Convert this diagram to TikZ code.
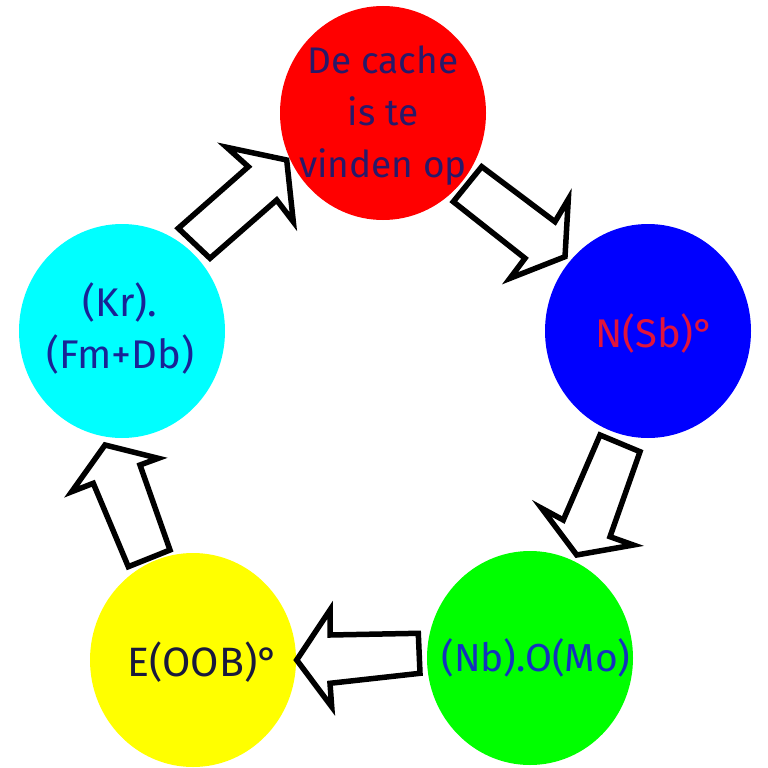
\documentclass[tikz,border=0pt]{standalone}
\usepackage{fontspec}
\setmainfont{Fira Sans}
\usetikzlibrary{shapes.geometric}
\definecolor{cred}{RGB}{255,0,0}
\definecolor{cblue}{RGB}{0,0,255}
\definecolor{cgreen}{RGB}{0,255,0}
\definecolor{cyellow}{RGB}{255,255,0}
\definecolor{ccyan}{RGB}{0,255,255}
\definecolor{tnavy}{RGB}{40,25,105}
\definecolor{tred}{RGB}{225,20,60}
\definecolor{tblue}{RGB}{20,50,190}
\definecolor{tdark}{RGB}{25,25,60}
\definecolor{tcyan}{RGB}{25,35,150}
\begin{document}
\begin{tikzpicture}[x=1pt,y=-1pt,
  blob/.style={ellipse, minimum width=206pt, minimum height=214pt, inner sep=0pt,
    align=center, font=\fontsize{40}{52}\selectfont},
  blockarrow/.style={draw=black, fill=white, line width=5.5pt, line join=miter}]
\useasboundingbox (0,0) rectangle (768,768);
\fill[white] (0,0) rectangle (768,768);

\node[blob, fill=cred] (red) at (383,113) {};
\node[text=tnavy, align=center, font=\fontsize{37}{52}\selectfont] (redtxt) at (383,116) {De cache\\is te\\vinden op};
\node[blob, fill=cblue, text=tred] (blue) at (648,331) {};
\node[text=tred, font=\fontsize{40}{52}\selectfont] (bluetxt) at (655,333) {N(Sb)°};
\node[blob, fill=cgreen, text=tblue] (green) at (530,658) {};
\node[text=tblue, font=\fontsize{39}{52}\selectfont] (greentxt) at (536,658) {(Nb).O(Mo)};
\node[blob, fill=cyellow, text=tdark] (yellow) at (193,660) {};
\node[text=tdark, font=\fontsize{41}{52}\selectfont] (yellowtxt) at (203,662) {E(OOB)°};
\node[blob, fill=ccyan, text=tcyan] (cyan) at (122,331) {};
\node[text=tcyan, align=center, font=\fontsize{40}{52}\selectfont] (cyantxt) at (120,328) {(Kr).\\(Fm+Db)};

% cyan -> red
\draw[blockarrow] (178.3,228.3) -- (248.3,166.7) -- (226.7,147.3) -- (286.7,160)
  -- (293.3,221.7) -- (276.7,200) -- (210,258.3) -- cycle;
% red -> blue
\draw[blockarrow] (481.7,166.7) -- (555,221.7) -- (568.3,199.3) -- (565,256.7)
  -- (510,278.3) -- (525,258.3) -- (453.3,201.7) -- cycle;
% blue -> green
\draw[blockarrow] (600,435) -- (640,451.7) -- (610,536.7) -- (633.3,545)
  -- (576.7,555) -- (541.7,508.3) -- (563.3,520) -- cycle;
% green -> yellow
\draw[blockarrow] (418.3,633.3) -- (420,673.3) -- (330,683.3) -- (331.7,706.7)
  -- (296.7,660) -- (330,610) -- (330,635) -- cycle;
% yellow -> cyan
\draw[blockarrow] (128.3,566.7) -- (170,550) -- (140,465) -- (158.3,458.3)
  -- (105,445) -- (71.7,491.7) -- (93.3,483.3) -- cycle;
\end{tikzpicture}
\end{document}
